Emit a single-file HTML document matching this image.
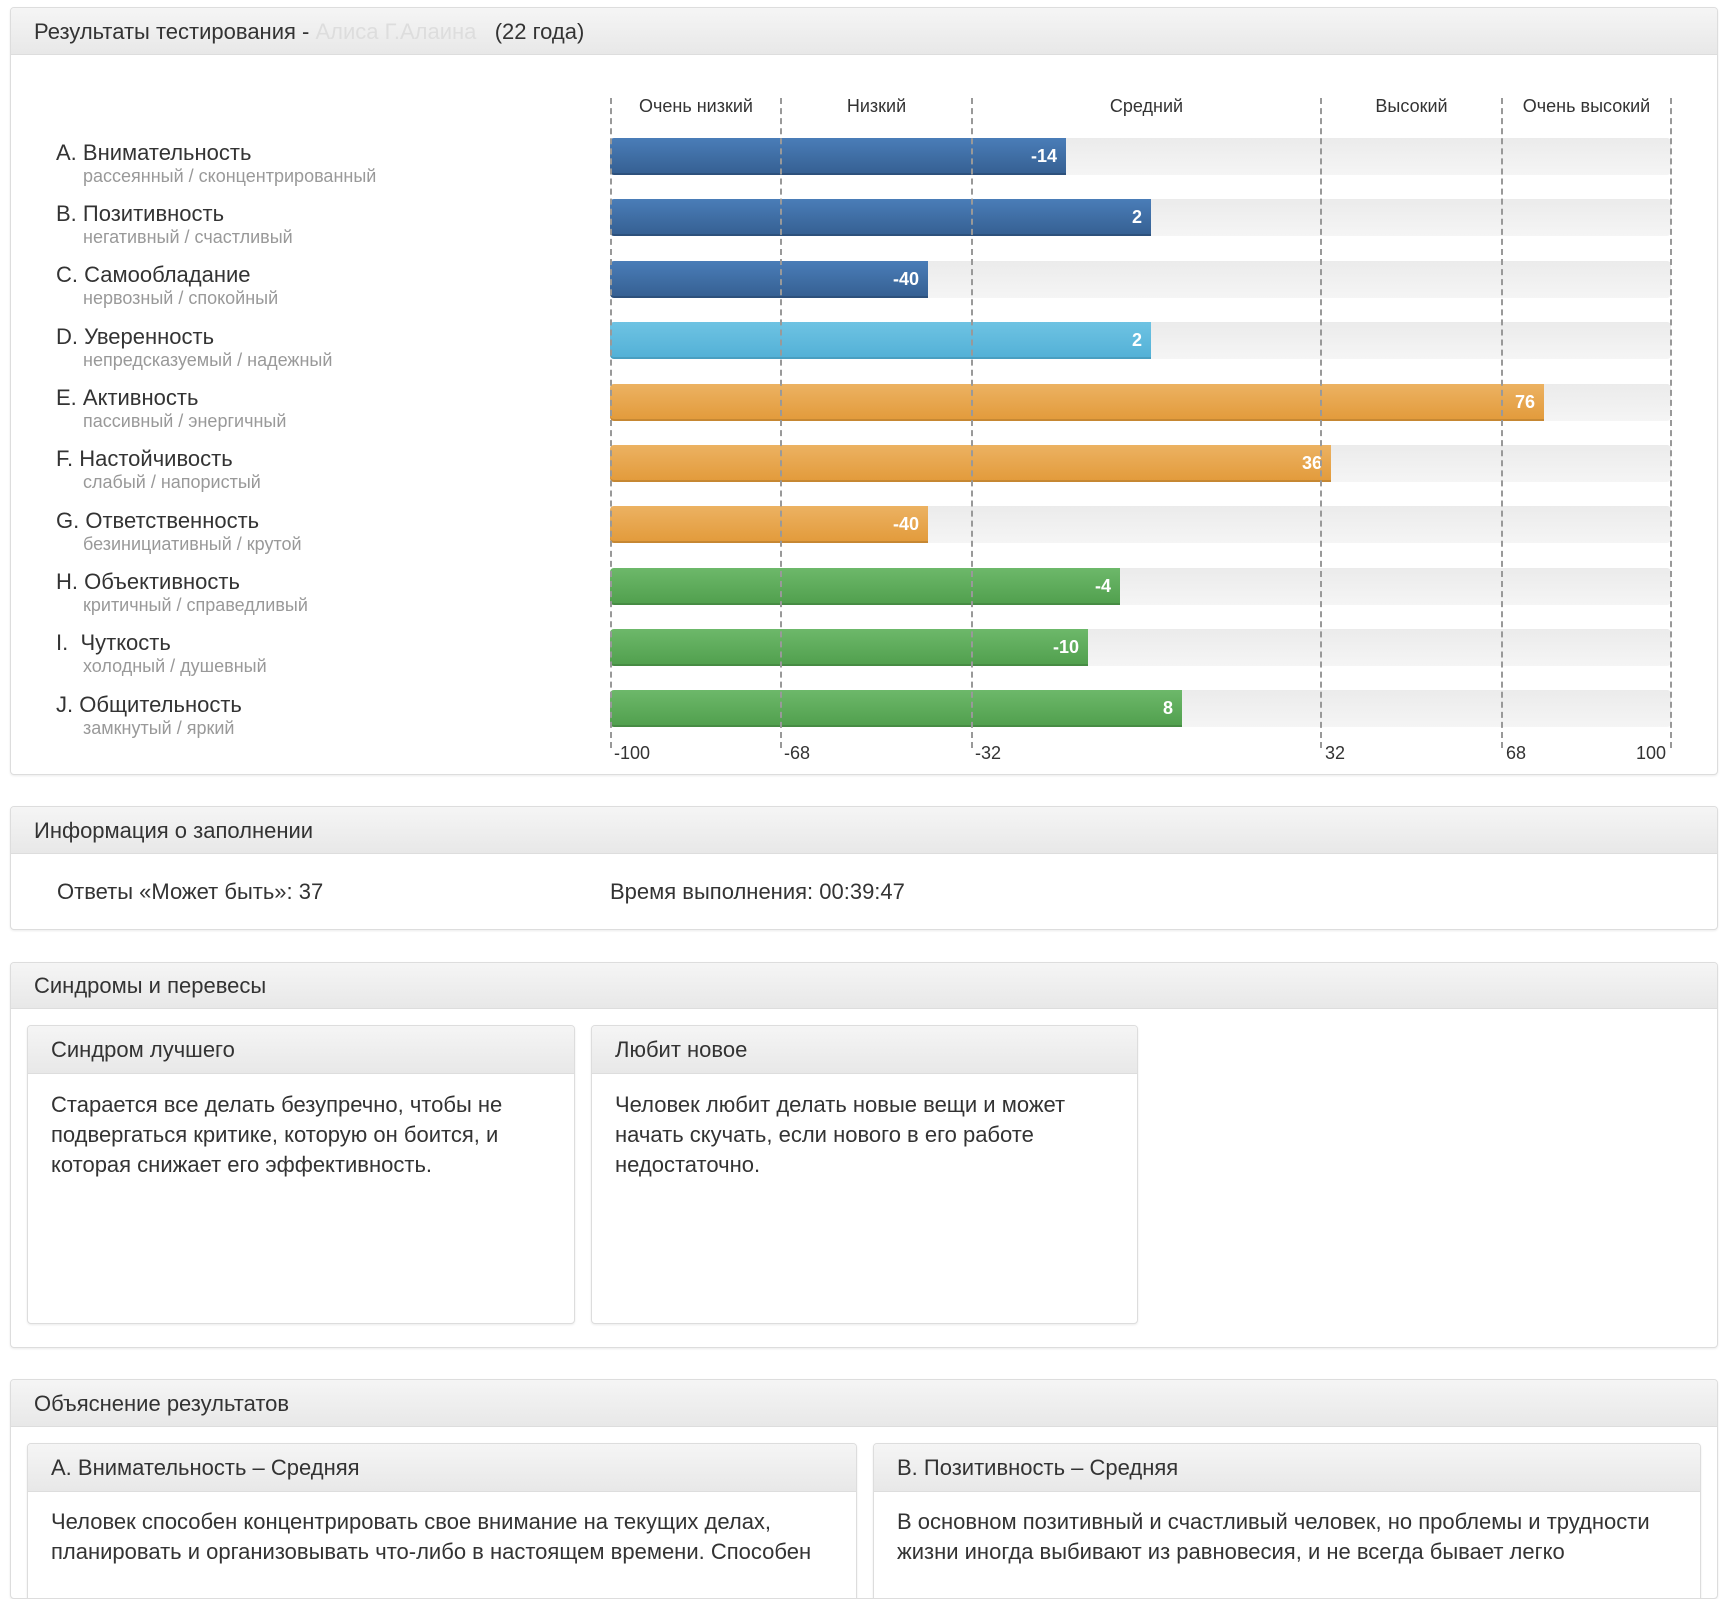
<!DOCTYPE html>
<html><head><meta charset="utf-8"><style>
*{box-sizing:border-box;margin:0;padding:0}
body{width:1728px;height:1572px;overflow:hidden;background:#fff;font-family:"Liberation Sans",sans-serif;color:#333;position:relative}
.panel{position:absolute;border:1px solid #ddd;border-radius:4px;box-shadow:0 1px 2px rgba(0,0,0,.08);background:#fff;overflow:hidden}
.ph{position:absolute;left:0;right:0;top:0;background:linear-gradient(#f5f5f5,#e8e8e8);border-bottom:1px solid #ddd;font-size:22px;padding-left:23px}
.name{position:absolute;left:56px;font-size:22px;color:#333}
.sub{position:absolute;left:83px;font-size:18px;color:#999}
.track{position:absolute;left:610px;width:1061px;height:37px;background:linear-gradient(#ebebeb,#f5f5f5);border-radius:4px}
.bar{position:absolute;left:610px;height:37px;border-radius:4px 0 0 4px;color:#fff;font-size:18px;font-weight:bold;text-align:right;padding-right:9px;line-height:37px}
.b1{background:linear-gradient(#4a7db8,#355f91);box-shadow:inset 0 -2px 0 rgba(0,0,0,.15)}
.b2{background:linear-gradient(#6ec3e3,#52b0d6);box-shadow:inset 0 -2px 0 rgba(0,0,0,.1)}
.b3{background:linear-gradient(#ecb262,#e29a3a);box-shadow:inset 0 -2px 0 rgba(0,0,0,.12)}
.b4{background:linear-gradient(#6db86a,#509f4d);box-shadow:inset 0 -2px 0 rgba(0,0,0,.12)}
.dash{position:absolute;top:98px;height:650px;border-left:2px dashed #999;width:0}
.col{position:absolute;top:96px;font-size:18px;text-align:center}
.tick{position:absolute;top:743px;font-size:18px}
.t{font-size:22px;line-height:30px;position:absolute}
</style></head><body>

<div class="panel" style="left:10px;top:7px;width:1708px;height:768px">
<div class="ph" style="height:47px;line-height:47px">Результаты тестирования - <span style="color:#ddd">Алиса Г.Алаина&nbsp;&nbsp;&nbsp;</span>(22 года)</div>
</div>

<div class="col" style="left:611px;width:170px">Очень низкий</div>
<div class="col" style="left:781px;width:191px">Низкий</div>
<div class="col" style="left:972px;width:349px">Средний</div>
<div class="col" style="left:1321px;width:181px">Высокий</div>
<div class="col" style="left:1502px;width:169px">Очень высокий</div>

<div class="name" style="top:140px">A. Внимательность</div><div class="sub" style="top:166px">рассеянный / сконцентрированный</div>
<div class="name" style="top:201px">B. Позитивность</div><div class="sub" style="top:227px">негативный / счастливый</div>
<div class="name" style="top:262px">C. Самообладание</div><div class="sub" style="top:288px">нервозный / спокойный</div>
<div class="name" style="top:324px">D. Уверенность</div><div class="sub" style="top:350px">непредсказуемый / надежный</div>
<div class="name" style="top:385px">E. Активность</div><div class="sub" style="top:411px">пассивный / энергичный</div>
<div class="name" style="top:446px">F. Настойчивость</div><div class="sub" style="top:472px">слабый / напористый</div>
<div class="name" style="top:508px">G. Ответственность</div><div class="sub" style="top:534px">безинициативный / крутой</div>
<div class="name" style="top:569px">H. Объективность</div><div class="sub" style="top:595px">критичный / справедливый</div>
<div class="name" style="top:630px">I.&nbsp; Чуткость</div><div class="sub" style="top:656px">холодный / душевный</div>
<div class="name" style="top:692px">J. Общительность</div><div class="sub" style="top:718px">замкнутый / яркий</div>

<div class="track" style="top:138px"></div><div class="bar b1" style="top:138px;width:456px">-14</div>
<div class="track" style="top:199px"></div><div class="bar b1" style="top:199px;width:541px">2</div>
<div class="track" style="top:261px"></div><div class="bar b1" style="top:261px;width:318px">-40</div>
<div class="track" style="top:322px"></div><div class="bar b2" style="top:322px;width:541px">2</div>
<div class="track" style="top:384px"></div><div class="bar b3" style="top:384px;width:934px">76</div>
<div class="track" style="top:445px"></div><div class="bar b3" style="top:445px;width:721px">36</div>
<div class="track" style="top:506px"></div><div class="bar b3" style="top:506px;width:318px">-40</div>
<div class="track" style="top:568px"></div><div class="bar b4" style="top:568px;width:510px">-4</div>
<div class="track" style="top:629px"></div><div class="bar b4" style="top:629px;width:478px">-10</div>
<div class="track" style="top:690px"></div><div class="bar b4" style="top:690px;width:572px">8</div>

<div class="dash" style="left:610px"></div>
<div class="dash" style="left:780px"></div>
<div class="dash" style="left:971px"></div>
<div class="dash" style="left:1320px"></div>
<div class="dash" style="left:1501px"></div>
<div class="dash" style="left:1670px"></div>

<div class="tick" style="left:614px">-100</div>
<div class="tick" style="left:784px">-68</div>
<div class="tick" style="left:975px">-32</div>
<div class="tick" style="left:1325px">32</div>
<div class="tick" style="left:1506px">68</div>
<div class="tick" style="left:1636px">100</div>

<div class="panel" style="left:10px;top:806px;width:1708px;height:124px">
<div class="ph" style="height:47px;line-height:47px">Информация о заполнении</div>
<div class="t" style="left:46px;top:70px">Ответы «Может быть»: 37</div>
<div class="t" style="left:599px;top:70px">Время выполнения: 00:39:47</div>
</div>

<div class="panel" style="left:10px;top:962px;width:1708px;height:386px">
<div class="ph" style="height:46px;line-height:46px">Синдромы и перевесы</div>
<div class="panel" style="left:16px;top:62px;width:548px;height:299px">
<div class="ph" style="height:48px;line-height:48px">Синдром лучшего</div>
<div class="t" style="left:23px;top:64px;width:480px">Старается все делать безупречно, чтобы не подвергаться критике, которую он боится, и которая снижает его эффективность.</div>
</div>
<div class="panel" style="left:580px;top:62px;width:547px;height:299px">
<div class="ph" style="height:48px;line-height:48px">Любит новое</div>
<div class="t" style="left:23px;top:64px;width:480px">Человек любит делать новые вещи и может начать скучать, если нового в его работе недостаточно.</div>
</div>
</div>

<div class="panel" style="left:10px;top:1379px;width:1708px;height:220px">
<div class="ph" style="height:47px;line-height:47px">Объяснение результатов</div>
<div class="panel" style="left:16px;top:63px;width:830px;height:200px">
<div class="ph" style="height:48px;line-height:48px">A. Внимательность – Средняя</div>
<div class="t" style="left:23px;top:63px;width:790px">Человек способен концентрировать свое внимание на текущих делах, планировать и организовывать что-либо в настоящем времени. Способен</div>
</div>
<div class="panel" style="left:862px;top:63px;width:828px;height:200px">
<div class="ph" style="height:48px;line-height:48px">B. Позитивность – Средняя</div>
<div class="t" style="left:23px;top:63px;width:790px">В основном позитивный и счастливый человек, но проблемы и трудности жизни иногда выбивают из равновесия, и не всегда бывает легко</div>
</div>
</div>
</body></html>
